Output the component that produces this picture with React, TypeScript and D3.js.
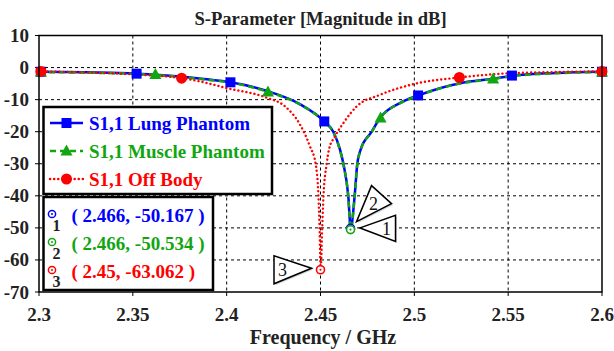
import React from 'react';
import * as d3 from 'd3';

// data
const xTicks = [2.3, 2.35, 2.4, 2.45, 2.5, 2.55, 2.6];
const yTicks = [10, 0, -10, -20, -30, -40, -50, -60, -70];

const sweepFreq = [
  2.3, 2.325, 2.352, 2.375, 2.388, 2.402, 2.422, 2.439, 2.452, 2.4568, 2.4604, 2.4622, 2.4648,
  2.4661, 2.4682, 2.4696, 2.4714, 2.4773, 2.4817, 2.4925, 2.502, 2.525, 2.542, 2.552, 2.575, 2.6,
];
const lungDb = [
  -1.3, -1.5, -1.9, -2.8, -3.6, -4.6, -7.4, -11.4, -16.8, -20.0, -25.6, -30.0, -40.0, -50.2, -40.0,
  -30.0, -25.6, -20.0, -15.7, -11.0, -8.7, -4.8, -3.5, -2.6, -1.7, -1.3,
];
const muscleDb = [
  -1.4, -1.6, -2.0, -2.9, -3.7, -4.7, -7.6, -11.5, -16.9, -20.1, -25.8, -30.2, -40.3, -50.5, -40.3,
  -30.2, -25.7, -20.1, -15.8, -11.1, -8.8, -4.9, -3.6, -2.7, -1.8, -1.4,
];

const offBodyFreq = [
  2.3, 2.33, 2.355, 2.376, 2.3855, 2.4, 2.4213, 2.4311, 2.4391, 2.4444, 2.4474, 2.4489, 2.4495,
  2.4501, 2.4509, 2.4516, 2.4533, 2.4545, 2.4577, 2.4622, 2.4693, 2.4817, 2.5, 2.524, 2.55, 2.575, 2.6,
];
const offBodyDb = [
  -1.2, -1.6, -2.3, -3.3, -4.3, -6.4, -9.4, -12.1, -17.8, -24.6, -30, -40, -50, -63.06, -50, -40,
  -30, -25.6, -21.5, -17.3, -12.1, -8.5, -5.1, -3.1, -1.8, -1.4, -1.2,
];

// symbol positions on each trace
const lungMarkFreq = [2.301, 2.352, 2.402, 2.452, 2.502, 2.552, 2.6];
const lungMarkDb = [-1.3, -1.9, -4.6, -16.8, -8.7, -2.5, -1.3];
const muscleMarkFreq = [2.301, 2.362, 2.422, 2.482, 2.542, 2.6];
const muscleMarkDb = [-1.4, -2.2, -7.6, -15.7, -3.6, -1.4];
const offBodyMarkFreq = [2.301, 2.376, 2.524, 2.6];
const offBodyMarkDb = [-1.2, -3.3, -3.1, -1.2];

const legendLabels = ['S1,1 Lung Phantom', 'S1,1 Muscle Phantom', 'S1,1 Off Body'];
const markerIds = ['1', '2', '3'];
const markerFreq = [2.466, 2.466, 2.45];
const markerDb = [-50.167, -50.534, -63.062];
const markerText = ['( 2.466, -50.167 )', '( 2.466, -50.534 )', '( 2.45, -63.062 )'];

const BLUE = '#0000ff';
const GREEN = '#11a611';
const RED = '#ff0000';
const colors = [BLUE, GREEN, RED];
const FONT = "'Liberation Serif', 'DejaVu Serif', serif";
const serif = { fontFamily: FONT };

// pointer triangles (pixel offsets from each marker point)
const pointers = [
  { pts: [[9.5, -0.5], [45, -13], [45, 13]], label: [36, 1] },
  { pts: [[6, -8], [21, -44], [41, -26]], label: [23, -26] },
  { pts: [[-9, -1.5], [-46.5, -14], [-46.5, 14]], label: [-38, 0] },
];

export default function App() {
  const width = 614;
  const height = 351;
  const left = 39;
  const right = 602;
  const top = 35.5;
  const bottom = 292;

  const x = d3.scaleLinear().domain([2.3, 2.6]).range([left, right]);
  const y = d3.scaleLinear().domain([-70, 10]).range([bottom, top]);

  const line = d3
    .line<[number, number]>()
    .x((d) => x(d[0]))
    .y((d) => y(d[1]))
    .curve(d3.curveMonotoneX);

  const lungPath = line(sweepFreq.map((f, i) => [f, lungDb[i]]));
  const musclePath = line(sweepFreq.map((f, i) => [f, muscleDb[i]]));
  const offBodyPath = line(offBodyFreq.map((f, i) => [f, offBodyDb[i]]));

  const square = (cx: number, cy: number, color: string, k: string) => (
    <rect key={k} x={cx - 5} y={cy - 5} width={10} height={10} fill={color} />
  );
  const triangle = (cx: number, cy: number, color: string, k: string) => (
    <path key={k} d={`M${cx},${cy - 6.5}L${cx + 6},${cy + 4.5}L${cx - 6},${cy + 4.5}Z`} fill={color} />
  );
  const dot = (cx: number, cy: number, color: string, k: string) => (
    <circle key={k} cx={cx} cy={cy} r={5.5} fill={color} />
  );
  const symbols = [square, triangle, dot];

  const legY = [123, 151, 179];
  const tableY = [215, 243, 271];

  return (
    <div style={{ position: 'absolute', left: 0, top: 0 }}>
      <svg width={width} height={height} style={{ display: 'block', background: '#fff', ...serif }}>
        <rect x={0} y={0} width={width} height={height} fill='#fff' />
        {/* title */}
        <text x={(left + right) / 2} y={25} textAnchor='middle' style={serif} fontWeight='bold' fontSize={18.6} fill='#222'>
          S-Parameter [Magnitude in dB]
        </text>

        {/* grid */}
        <g stroke='#000' strokeWidth={1} strokeDasharray='3,3'>
          {xTicks.slice(1, -1).map((t) => (
            <line key={'gx' + t} x1={x(t)} x2={x(t)} y1={top} y2={bottom} />
          ))}
          {yTicks.slice(1, -1).map((t) => (
            <line key={'gy' + t} x1={left} x2={right} y1={y(t)} y2={y(t)} />
          ))}
        </g>

        {/* ticks & labels */}
        <g stroke='#000' strokeWidth={1}>
          {yTicks.map((t) => (
            <line key={'ty' + t} x1={left - 4} x2={left} y1={y(t)} y2={y(t)} />
          ))}
          {xTicks.map((t) => (
            <line key={'tx' + t} x1={x(t)} x2={x(t)} y1={bottom} y2={bottom + 4} />
          ))}
        </g>
        <g style={serif} fontWeight='bold' fontSize={19} fill='#222'>
          {yTicks.map((t) => (
            <text key={'ly' + t} x={29} y={y(t) + 6.5} textAnchor='end'>
              {t}
            </text>
          ))}
          {xTicks.map((t) => (
            <text key={'lx' + t} x={x(t)} y={321} textAnchor='middle'>
              {t}
            </text>
          ))}
        </g>
        <text x={323} y={344} textAnchor='middle' style={serif} fontWeight='bold' fontSize={20} fill='#222'>
          Frequency / GHz
        </text>

        {/* traces */}
        <path d={lungPath} fill='none' stroke={BLUE} strokeWidth={2.5} />
        <path d={musclePath} fill='none' stroke={GREEN} strokeWidth={2.5} strokeDasharray='6,4' />
        <path d={offBodyPath} fill='none' stroke={RED} strokeWidth={2.4} strokeDasharray='0.1,4' strokeLinecap='round' />

        {lungMarkFreq.map((f, i) => square(x(f), y(lungMarkDb[i]), BLUE, 'sq' + i))}
        {muscleMarkFreq.map((f, i) => triangle(x(f), y(muscleMarkDb[i]), GREEN, 'tr' + i))}
        {offBodyMarkFreq.map((f, i) => dot(x(f), y(offBodyMarkDb[i]), RED, 'dt' + i))}

        {/* plot border */}
        <rect x={left} y={top} width={right - left} height={bottom - top} fill='none' stroke='#000' strokeWidth={1.5} />

        {/* marker pointers */}
        {markerFreq.map((f, i) => {
          const mx = x(f);
          const my = y(markerDb[i]);
          const p = pointers[i];
          const d = 'M' + p.pts.map((q) => `${mx + q[0]},${my + q[1]}`).join('L') + 'Z';
          return (
            <g key={'ptr' + i}>
              <path d={d} fill='#bbb' transform='translate(1.5,1.5)' opacity={0.6} />
              <path d={d} fill='#fff' stroke='#000' strokeWidth={1.5} />
              <text x={mx + p.label[0]} y={my + p.label[1] + 6} textAnchor='middle' style={serif} fontSize={18} fill='#111'>
                {markerIds[i]}
              </text>
            </g>
          );
        })}
        {markerFreq.map((f, i) => (
          <g key={'mk' + i}>
            <circle cx={x(f)} cy={y(markerDb[i])} r={4} fill='#fff' stroke={colors[i]} strokeWidth={1.6} />
            <circle cx={x(f)} cy={y(markerDb[i])} r={1.1} fill={colors[i]} />
          </g>
        ))}

        {/* legend */}
        <rect x={43.5} y={107} width={228.5} height={87} fill='#fff' stroke='#000' strokeWidth={2.5} />
        {legendLabels.map((lab, i) => (
          <g key={'leg' + i}>
            <line
              x1={50}
              x2={83}
              y1={legY[i]}
              y2={legY[i]}
              stroke={colors[i]}
              strokeWidth={2.5}
              strokeDasharray={i === 0 ? undefined : i === 1 ? '6,4' : '0.1,4'}
              strokeLinecap={i === 2 ? 'round' : 'butt'}
            />
            {symbols[i](66.5, legY[i], colors[i], 'ls' + i)}
            <text x={89} y={legY[i] + 6.5} style={serif} fontWeight='bold' fontSize={19} fill={colors[i]}>
              {lab}
            </text>
          </g>
        ))}

        {/* marker table */}
        <rect x={43.5} y={197} width={169.5} height={93} fill='#fff' stroke='#000' strokeWidth={2.5} />
        {markerText.map((t, i) => (
          <g key={'tab' + i}>
            <circle cx={52} cy={tableY[i] - 1} r={3.6} fill='none' stroke={colors[i]} strokeWidth={1.5} />
            <circle cx={52} cy={tableY[i] - 1} r={1} fill={colors[i]} />
            <text x={56.5} y={tableY[i] + 16} textAnchor='middle' style={serif} fontWeight='bold' fontSize={16} fill='#222'>
              {markerIds[i]}
            </text>
            <text x={71.5} y={tableY[i] + 6.5} style={serif} fontWeight='bold' fontSize={19} fill={colors[i]}>
              {t}
            </text>
          </g>
        ))}
      </svg>
    </div>
  );
}
